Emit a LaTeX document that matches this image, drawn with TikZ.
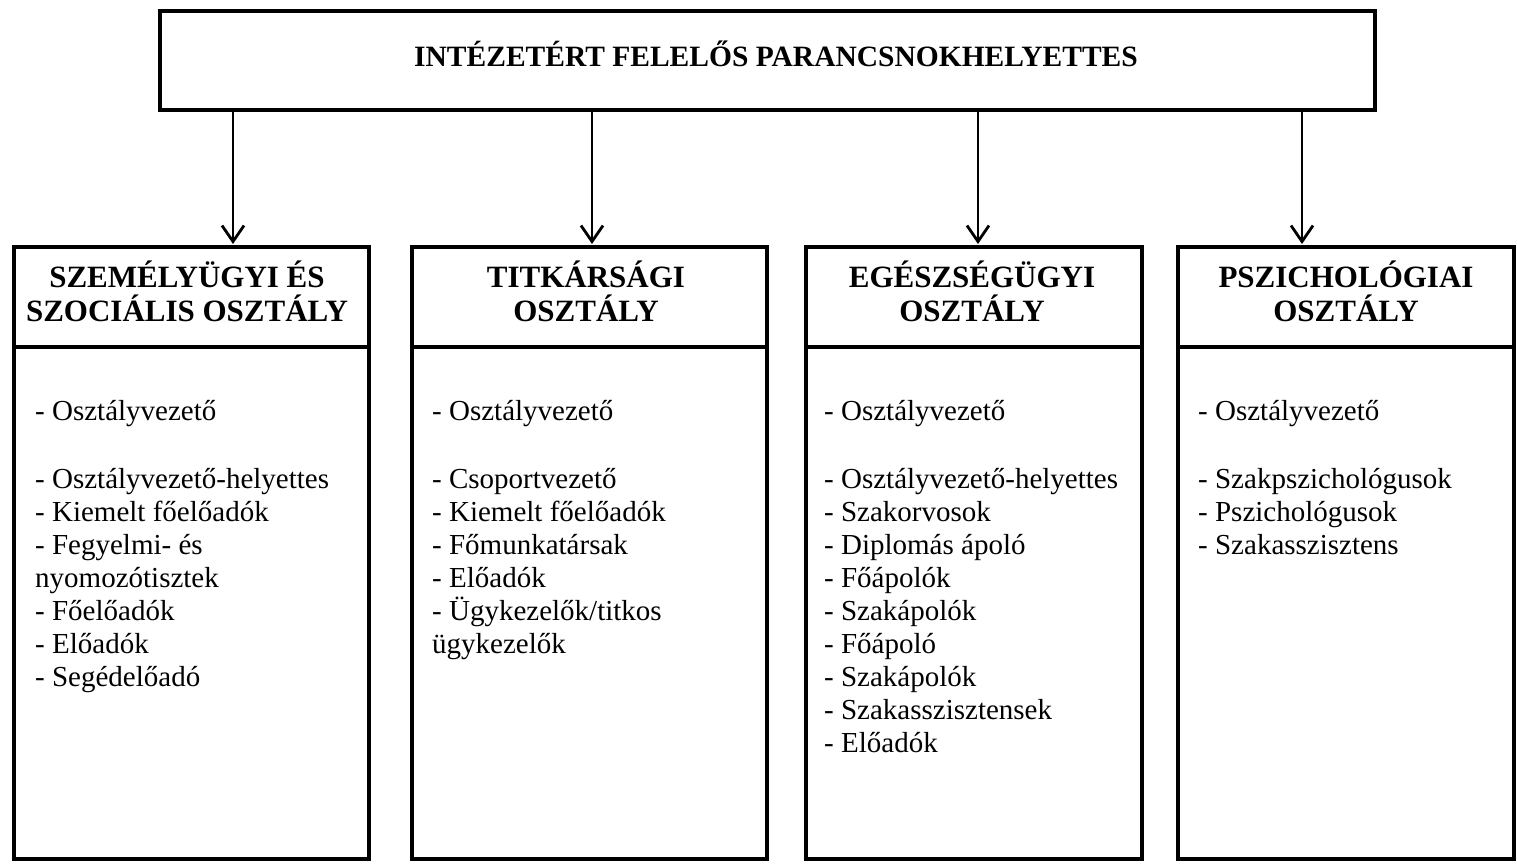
\documentclass[tikz,border=0pt]{standalone}
\usepackage{fontspec}
\setmainfont{Liberation Serif}
\usetikzlibrary{arrows.meta}
\begin{document}
\begin{tikzpicture}[x=1pt,y=-1pt,
 boxline/.style={draw=black, line width=4pt},
 topbox/.style={boxline, minimum width=1215pt, minimum height=99pt, inner sep=0pt},
 hdr/.style={boxline, minimum height=100pt, inner sep=0pt},
 hdrtext/.style={align=center, inner sep=0pt, font=\fontsize{31}{34}\selectfont\bfseries},
 bodybox/.style={boxline, minimum height=512pt, inner sep=0pt},
 list/.style={anchor=north west, align=left, inner sep=0pt, font=\fontsize{29}{33}\selectfont},
 arr/.style={line width=2.8pt, -{Straight Barb[length=16pt,width=22pt]}, shorten >=1pt}
]
\fill[white] (0,0) rectangle (1517,866);
\useasboundingbox (0,0) rectangle (1517,866);

\node[topbox] (top) at (767.5,60.5) {};
\node[font=\fontsize{29.5}{34}\selectfont\bfseries] (title) at (776,54) {INTÉZETÉRT FELELŐS PARANCSNOKHELYETTES};

\node[hdr, minimum width=355pt] (h1) at (191.5,297) {};
\node[hdr, minimum width=355pt] (h2) at (589.5,297) {};
\node[hdr, minimum width=336pt] (h3) at (974,297) {};
\node[hdr, minimum width=336pt] (h4) at (1346,297) {};
\node[hdrtext] (t1) at (187,291) {SZEMÉLYÜGYI ÉS\\SZOCIÁLIS OSZTÁLY};
\node[hdrtext] (t2) at (586,291) {TITKÁRSÁGI\\OSZTÁLY};
\node[hdrtext] (t3) at (972,291) {EGÉSZSÉGÜGYI\\OSZTÁLY};
\node[hdrtext] (t4) at (1346,291) {PSZICHOLÓGIAI\\OSZTÁLY};

\node[bodybox, minimum width=355pt] (b1) at (191.5,603) {};
\node[bodybox, minimum width=355pt] (b2) at (589.5,603) {};
\node[bodybox, minimum width=336pt] (b3) at (974,603) {};
\node[bodybox, minimum width=336pt] (b4) at (1346,603) {};

\node[list] (l1) at (35,400) {- Osztályvezető\\[35pt]- Osztályvezető-helyettes\\- Kiemelt főelőadók\\- Fegyelmi- és\\nyomozótisztek\\- Főelőadók\\- Előadók\\- Segédelőadó};
\node[list] (l2) at (432,400) {- Osztályvezető\\[35pt]- Csoportvezető\\- Kiemelt főelőadók\\- Főmunkatársak\\- Előadók\\- Ügykezelők/titkos\\ügykezelők};
\node[list] (l3) at (824,400) {- Osztályvezető\\[35pt]- Osztályvezető-helyettes\\- Szakorvosok\\- Diplomás ápoló\\- Főápolók\\- Szakápolók\\- Főápoló\\- Szakápolók\\- Szakasszisztensek\\- Előadók};
\node[list] (l4) at (1198,400) {- Osztályvezető\\[35pt]- Szakpszichológusok\\- Pszichológusok\\- Szakasszisztens};

\coordinate (x1) at (233,0);
\coordinate (x2) at (592,0);
\coordinate (x3) at (978,0);
\coordinate (x4) at (1302,0);
\draw[arr] (top.south -| x1) -- (h1.north -| x1);
\draw[arr] (top.south -| x2) -- (h2.north -| x2);
\draw[arr] (top.south -| x3) -- (h3.north -| x3);
\draw[arr] (top.south -| x4) -- (h4.north -| x4);
\end{tikzpicture}
\end{document}
